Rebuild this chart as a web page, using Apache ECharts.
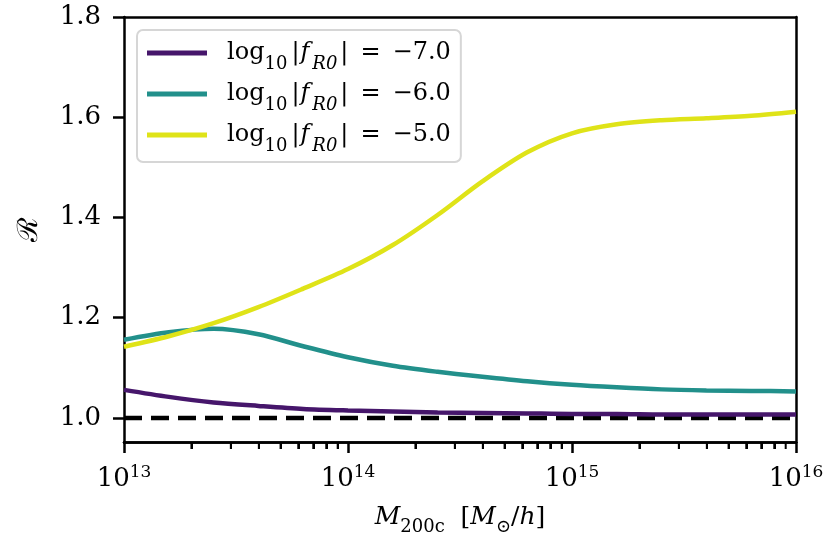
<!DOCTYPE html>
<html>
<head>
    <meta charset="utf-8">
    <title>R vs M200c</title>
    <script src="https://cdn.jsdelivr.net/npm/echarts@6/dist/echarts.min.js"></script>
    <style>
        html, body { margin: 0; padding: 0; background: #fff; }
    </style>
</head>
<body>
    <div id="main" style="width: 830px;height:554px;"></div>
    <script type="text/javascript">
        // log10 of M200c [Msun/h]
        var logM = [13.0, 13.2, 13.4, 13.6, 13.8, 14.0, 14.2, 14.4, 14.6, 14.8, 15.0, 15.2, 15.4, 15.6, 15.8, 16.0];
        var r_m7 = [1.056, 1.042, 1.031, 1.024, 1.018, 1.015, 1.013, 1.011, 1.010, 1.009, 1.008, 1.008, 1.007, 1.007, 1.007, 1.007];
        var r_m6 = [1.156, 1.171, 1.178, 1.167, 1.143, 1.121, 1.104, 1.092, 1.082, 1.073, 1.066, 1.061, 1.057, 1.055, 1.054, 1.053];
        var r_m5 = [1.142, 1.163, 1.189, 1.221, 1.258, 1.297, 1.345, 1.405, 1.472, 1.530, 1.568, 1.586, 1.594, 1.598, 1.603, 1.611];
        var refX = [13, 16];
        var refY = [1.0, 1.0];
        var names = ['-7.0', '-6.0', '-5.0'];
        var colors = ['#46166b', '#22908b', '#dfe318'];
        var yTicks = [1.0, 1.2, 1.4, 1.6, 1.8];
        var yMin = 0.952, yMax = 1.8;
        // minor tick positions of the log axis, log10(k * 10^d)
        var xMinor = [13.301, 13.477, 13.602, 13.699, 13.778, 13.845, 13.903, 13.954,
                      14.301, 14.477, 14.602, 14.699, 14.778, 14.845, 14.903, 14.954,
                      15.301, 15.477, 15.602, 15.699, 15.778, 15.845, 15.903, 15.954];

        var FONT = 'DejaVu Serif';
        var AX = '#000';

        function pairs(xs, ys) {
            var out = [];
            for (var i = 0; i < xs.length; i++) out.push([xs[i], ys[i]]);
            return out;
        }

        var seriesY = [r_m7, r_m6, r_m5];
        var series = [];
        for (var i = 0; i < names.length; i++) {
            series.push({
                name: names[i],
                type: 'line',
                data: pairs(logM, seriesY[i]),
                smooth: 0.3,
                showSymbol: false,
                lineStyle: { color: colors[i], width: 4.5 },
                itemStyle: { color: colors[i] },
                z: 3 + i
            });
        }
        series.unshift({
            name: 'ref',
            type: 'line',
            data: pairs(refX, refY),
            showSymbol: false,
            lineStyle: { color: '#000', width: 4.5, type: [18, 9] },
            z: 2
        });
        // minor ticks also as a custom series, same spot as the overlay axis ticks
        series.push({
            type: 'custom',
            data: xMinor.map(function (v) { return [v, yMin]; }),
            renderItem: function (p, api) {
                var c = api.coord([api.value(0), api.value(1)]);
                return { type: 'rect', shape: { x: c[0] - 1, y: c[1], width: 2, height: 7 }, style: { fill: AX } };
            }
        });

        // legend / name rich styles: sub tokens pushed down with top padding
        var legendRich = {
            l: { fontFamily: FONT, fontSize: 24, lineHeight: 30, color: '#000', padding: [0, 0, 0, 15] },
            a: { fontFamily: FONT, fontSize: 24, lineHeight: 30, color: '#000' },
            b: { fontFamily: FONT, fontSize: 24, lineHeight: 30, color: '#000', padding: [0, 1, 0, 4] },
            b2: { fontFamily: FONT, fontSize: 24, lineHeight: 30, color: '#000', padding: [0, 0, 0, 3] },
            e: { fontFamily: FONT, fontSize: 24, lineHeight: 30, color: '#000', padding: [0, 12, 0, 12] },
            i: { fontFamily: FONT, fontSize: 24, lineHeight: 30, fontStyle: 'italic', color: '#000', padding: [0, 3, 0, 0] },
            s: { fontFamily: FONT, fontSize: 18, lineHeight: 30, verticalAlign: 'top', padding: [17, 0, 0, 0], color: '#000' },
            si: { fontFamily: FONT, fontSize: 18, lineHeight: 30, verticalAlign: 'top', padding: [17, 0, 0, 0], fontStyle: 'italic', color: '#000' }
        };

        var option = {
            animation: false,
            grid: { left: 124, right: 34, top: 17, bottom: 112 },
            legend: {
                data: names,
                orient: 'vertical',
                left: 137,
                top: 30,
                padding: [8, 10, 7, 10],
                itemGap: 6,
                itemWidth: 60,
                itemHeight: 5,
                icon: 'rect',
                backgroundColor: '#fff',
                borderColor: '#d6d6d6',
                borderWidth: 2,
                borderRadius: 6,
                formatter: function (name) {
                    return '{l|log}{s|10}{b||}{i|f}{si|R0}{b2||}{e|=}{a|\u2212' + name.replace('-', '') + '}';
                },
                textStyle: { fontFamily: FONT, rich: legendRich }
            },
            xAxis: [{
                type: 'value',
                min: 13,
                max: 16,
                interval: 1,
                name: '{m|M}{s|200c}{a|  [}{m|M}{s|\u2299}{a|/}{m|h}{a|]}',
                nameLocation: 'middle',
                nameGap: 60,
                nameTextStyle: {
                    rich: {
                        m: { fontFamily: FONT, fontSize: 25, fontStyle: 'italic', lineHeight: 30, color: '#000' },
                        a: { fontFamily: FONT, fontSize: 25, lineHeight: 30, color: '#000' },
                        s: { fontFamily: FONT, fontSize: 18, lineHeight: 30, verticalAlign: 'top', padding: [16, 0, 0, 0], color: '#000' }
                    }
                },
                axisLine: { show: true, onZero: false, lineStyle: { color: AX, width: 2.5 } },
                axisTick: { show: true, length: 11, lineStyle: { color: AX, width: 2.5 } },
                axisLabel: {
                    margin: 22,
                    formatter: function (v) { return '{b|10}{p|' + Math.round(v) + '}'; },
                    rich: {
                        b: { fontFamily: FONT, fontSize: 26, lineHeight: 30, color: '#000' },
                        p: { fontFamily: FONT, fontSize: 17, lineHeight: 18, verticalAlign: 'top', color: '#000' }
                    }
                },
                splitLine: { show: false }
            }, {
                // overlay axis carrying only the minor ticks
                type: 'value',
                min: 13,
                max: 16,
                position: 'bottom',
                offset: 0,
                axisLine: { show: true, onZero: false, lineStyle: { color: AX, width: 2.5 } },
                axisTick: { show: true, length: 7, lineStyle: { color: AX, width: 2 }, customValues: xMinor },
                axisLabel: { show: true, customValues: xMinor, color: 'rgba(0,0,0,0)', fontSize: 8 },
                splitLine: { show: false }
            }, {
                // top frame line
                type: 'value',
                min: 13,
                max: 16,
                position: 'top',
                axisLine: { show: true, onZero: false, lineStyle: { color: AX, width: 2.5 } },
                axisTick: { show: false },
                axisLabel: { show: false },
                splitLine: { show: false }
            }],
            yAxis: [{
                type: 'value',
                min: yMin,
                max: yMax,
                name: '\u211B',
                nameLocation: 'middle',
                nameGap: 80,
                nameRotate: 90,
                nameTextStyle: { fontFamily: 'DejaVu Serif', fontSize: 28, color: '#000' },
                axisLine: { show: true, onZero: false, lineStyle: { color: AX, width: 2.5 } },
                axisTick: { show: true, length: 11, lineStyle: { color: AX, width: 2.5 }, customValues: yTicks },
                axisLabel: {
                    margin: 23,
                    customValues: yTicks,
                    fontFamily: FONT,
                    fontSize: 26,
                    color: '#000',
                    formatter: function (v) { return v.toFixed(1); }
                },
                splitLine: { show: false }
            }, {
                // right frame line
                type: 'value',
                min: yMin,
                max: yMax,
                position: 'right',
                axisLine: { show: true, onZero: false, lineStyle: { color: AX, width: 2.5 } },
                axisTick: { show: false },
                axisLabel: { show: false },
                splitLine: { show: false }
            }],
            series: series
        };

        var myChart = echarts.init(document.getElementById('main'));
        myChart.setOption(option);
    </script>
</body>
</html>
